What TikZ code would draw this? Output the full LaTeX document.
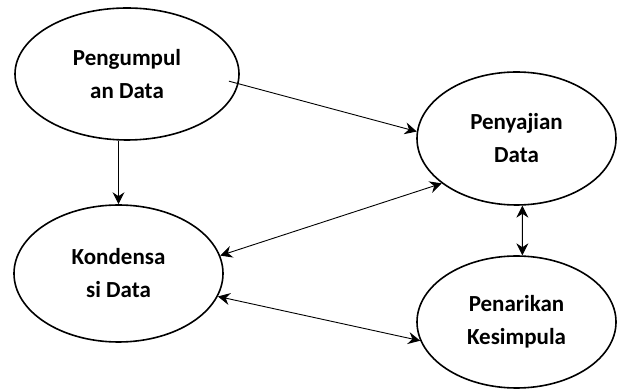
\documentclass[tikz,border=0pt]{standalone}
\usepackage{fontspec}
\setmainfont{Carlito}
\usetikzlibrary{shapes.geometric, arrows.meta, positioning}
\tikzstyle{stage} = [ellipse, draw, line width=1.6pt, inner sep=0pt, text centered, font=\bfseries\fontsize{23}{33}\selectfont]
\tikzstyle{flow} = [line width=0.9pt, -{Stealth[length=12pt, width=12pt, inset=4pt]}]
\tikzstyle{both} = [line width=0.9pt, {Stealth[length=12pt, width=12pt, inset=4pt]}-{Stealth[length=12pt, width=12pt, inset=4pt]}]

\begin{document}
\begin{tikzpicture}[align=center, x=1pt, y=1pt]
  \useasboundingbox (0,0) rectangle (617,390);
  \node (kumpul) [stage, minimum width=224pt, minimum height=132pt] at (127,316) {Pengumpul\\an Data};
  \node (saji) [stage, minimum width=199pt, minimum height=133pt] at (516.5,251.5) {Penyajian\\Data};
  \node (kondensasi) [stage, minimum width=209pt, minimum height=137pt] at (118.5,116.5) {Kondensa\\si Data};
  \node (tarik) [stage, minimum width=199pt, minimum height=132pt] at (516.5,68) {Penarikan\\Kesimpula};
  \draw [flow, shorten <=-10pt] (kumpul.-5) -- (saji.176);
  \draw [flow] (kondensasi.north |- kumpul.south) -- (kondensasi.north);
  \draw [both] (kondensasi.10) -- (saji.211);
  \draw [both] (kondensasi.-13) -- (tarik.191);
  \draw [both] (saji.275) -- (tarik.85);
\end{tikzpicture}
\end{document}
